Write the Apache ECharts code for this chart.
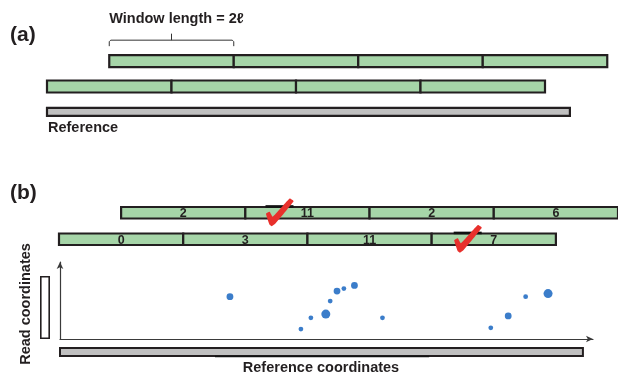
<!DOCTYPE html>
<html><head><meta charset="utf-8">
<script src="https://cdn.jsdelivr.net/npm/echarts@6/dist/echarts.min.js"></script>
<style>html,body{margin:0;padding:0;background:#fff}#c{width:618px;height:375px}</style>
</head><body><div id="c"></div>
<script>
// ---- data (reference units, ℓ = 1) ----
const windowLength = 2;            // 2ℓ
const aRow1Starts = [1, 3, 5, 7];
const aRow2Starts = [0, 2, 4, 6];
const refLength = 8.4;
const bRow1Starts = [1, 3, 5, 7];
const bRow1Counts = [2, 11, 2, 6];
const bRow2Starts = [0, 2, 4, 6];
const bRow2Counts = [0, 3, 11, 7];
const checkX = [3.55, 6.58];
const checkRow = [0, 1];
const hitRef  = [2.73, 3.87, 4.03, 4.27, 4.34, 4.45, 4.56, 4.73, 5.18, 6.92, 7.20, 7.48, 7.84];
const hitRead = [0.68, 0.16, 0.34, 0.40, 0.61, 0.77, 0.81, 0.86, 0.34, 0.18, 0.37, 0.68, 0.73];
const hitWeight = [2, 1, 1, 3, 1, 2, 1, 2, 1, 1, 2, 1, 3];
const readSpan = [0, 1.0];
const refUnderline = [2.49, 5.93];

// ---- styles ----
const FONT = '"Liberation Sans", Arial, "DejaVu Sans", sans-serif';
const INK = '#231f20';
const GREEN = '#a6d5a8';
const GRAY = '#c0c0c0';
const BLUE = '#3b7dca';
const RED = '#e8302c';
const sizeByWeight = {1: 4.8, 2: 6.8, 3: 9};

function winData(starts, row, labels) {
  return starts.map((s, i) => labels ? [s, s + windowLength, row, labels[i]] : [s, s + windowLength, row]);
}
function barRender(h, fill, labelled) {
  return function (params, api) {
    const p0 = api.coord([api.value(0), api.value(2)]);
    const p1 = api.coord([api.value(1), api.value(2)]);
    const children = [{
      type: 'rect',
      shape: {x: p0[0], y: p0[1] - h / 2, width: p1[0] - p0[0], height: h},
      style: {fill: fill, stroke: INK, lineWidth: 2.2}
    }];
    if (labelled) {
      children.push({
        type: 'text', x: (p0[0] + p1[0]) / 2, y: p0[1] + 1,
        style: {text: String(api.value(3)), font: 'bold 12.5px ' + FONT, fill: INK,
                textAlign: 'center', textVerticalAlign: 'middle'}
      });
    }
    return {type: 'group', children: children};
  };
}
const winDims = ['start', 'end', 'row', 'label'];

const chart = echarts.init(document.getElementById('c'), null, {renderer: 'canvas'});
const hidden = {show: false};
chart.setOption({
  animation: false,
  grid: [
    {left: 47, top: 48.5, width: 560.25, height: 76},
    {left: 59, top: 199.5, width: 560.25, height: 53},
    {left: 60, top: 262, width: 533, height: 77}
  ],
  xAxis: [
    {gridIndex: 0, type: 'value', min: 0, max: 9, show: false},
    {gridIndex: 1, type: 'value', min: 0, max: 9, show: false},
    {gridIndex: 2, type: 'value', min: 0, max: 8.562,
     axisLine: {show: true, symbol: ['none', 'arrow'], symbolSize: [5, 7], lineStyle: {color: '#3a3a3a', width: 1.2}},
     axisTick: hidden, axisLabel: hidden, splitLine: hidden}
  ],
  yAxis: [
    {gridIndex: 0, type: 'category', data: ['w1', 'w2', 'ref'], inverse: true, show: false},
    {gridIndex: 1, type: 'category', data: ['r1', 'r2'], inverse: true, show: false},
    {gridIndex: 2, type: 'value', min: 0, max: 1.237,
     axisLine: {show: true, symbol: ['none', 'arrow'], symbolSize: [5, 7], lineStyle: {color: '#3a3a3a', width: 1.2}},
     axisTick: hidden, axisLabel: hidden, splitLine: hidden}
  ],
  graphic: [
    {type: 'text', x: 10, y: 35.5, style: {text: '(a)', font: 'bold 21px ' + FONT, fill: INK, textVerticalAlign: 'middle'}},
    {type: 'text', x: 10, y: 193.5, style: {text: '(b)', font: 'bold 21px ' + FONT, fill: INK, textVerticalAlign: 'middle'}},
    {type: 'text', x: 48, y: 128, style: {text: 'Reference', font: 'bold 14.5px ' + FONT, fill: INK, textVerticalAlign: 'middle'}},
    {type: 'text', x: 321, y: 367.5, style: {text: 'Reference coordinates', font: 'bold 14.5px ' + FONT, fill: INK, textAlign: 'center', textVerticalAlign: 'middle'}},
    {type: 'text', x: 26, y: 304, rotation: Math.PI / 2, style: {text: 'Read coordinates', font: 'bold 14.5px ' + FONT, fill: INK, textAlign: 'center', textVerticalAlign: 'middle'}}
  ],
  series: [
    // panel (a)
    {type: 'custom', xAxisIndex: 0, yAxisIndex: 0, clip: false, dimensions: winDims, encode: {x: [0, 1], y: 2},
     data: winData(aRow1Starts, 0).concat(winData(aRow2Starts, 1)), renderItem: barRender(12, GREEN, false)},
    {type: 'custom', xAxisIndex: 0, yAxisIndex: 0, clip: false, encode: {x: [0, 1], y: 2},
     data: [[0, refLength, 2]], renderItem: barRender(8, GRAY, false)},
    // bracket + window length label
    {type: 'custom', xAxisIndex: 0, yAxisIndex: 0, clip: false, encode: {x: [0, 1], y: 2},
     data: [[aRow1Starts[0], aRow1Starts[0] + windowLength, 0]],
     renderItem: function (params, api) {
       const p0 = api.coord([api.value(0), api.value(2)]);
       const p1 = api.coord([api.value(1), api.value(2)]);
       const cy = p0[1], xm = (p0[0] + p1[0]) / 2;
       return {type: 'group', children: [
         {type: 'polyline', shape: {points: [[p0[0], cy - 15], [p0[0], cy - 19.5], [p0[0] + 1.5, cy - 21], [p1[0] - 1.5, cy - 21], [p1[0], cy - 19.5], [p1[0], cy - 15]]},
          style: {fill: null, stroke: '#333', lineWidth: 1}},
         {type: 'line', shape: {x1: xm, y1: cy - 21, x2: xm, y2: cy - 27.5}, style: {stroke: '#333', lineWidth: 1}},
         {type: 'text', x: xm + 5, y: cy - 42, style: {text: 'Window length = 2ℓ', font: 'bold 14.5px ' + FONT, fill: INK, textAlign: 'center', textVerticalAlign: 'middle'}}
       ]};
     }},
    // panel (b) windows
    {type: 'custom', xAxisIndex: 1, yAxisIndex: 1, clip: false, dimensions: winDims, encode: {x: [0, 1], y: 2},
     data: winData(bRow1Starts, 0, bRow1Counts).concat(winData(bRow2Starts, 1, bRow2Counts)),
     renderItem: barRender(11.5, GREEN, true)},
    // check marks
    {type: 'custom', xAxisIndex: 1, yAxisIndex: 1, clip: false, z: 5, encode: {x: 0, y: 1},
     data: checkX.map((x, i) => [x, checkRow[i]]),
     renderItem: function (params, api) {
       const c = api.coord([api.value(0), api.value(1)]);
       const ox = c[0] - 13.5, oy = c[1] - 13;
       const pts = [[0, 14], [3.6, 12], [6.8, 17], [23.6, -1.2], [27.6, 1.4], [9.2, 24], [5.8, 26.4], [3.6, 25]]
         .map(p => [ox + p[0], oy + p[1]]);
       return {type: 'group', children: [
         {type: 'rect', shape: {x: c[0] - 14, y: c[1] - 7.6, width: 28, height: 2.6}, style: {fill: '#111'}},
         {type: 'polygon', shape: {points: pts, smooth: 0.12}, style: {fill: RED}}
       ]};
     }},
    // scatter hits
    {type: 'scatter', xAxisIndex: 2, yAxisIndex: 2,
     data: hitRef.map((x, i) => [x, hitRead[i], hitWeight[i]]),
     symbolSize: v => sizeByWeight[v[2]],
     itemStyle: {color: BLUE, opacity: 1}},
    // reference bar (b)
    {type: 'custom', xAxisIndex: 2, yAxisIndex: 2, clip: false, encode: {x: [0, 1]},
     data: [[0, refLength]],
     renderItem: function (params, api) {
       const p0 = api.coord([api.value(0), 0]);
       const p1 = api.coord([api.value(1), 0]);
       return {type: 'rect', shape: {x: p0[0], y: p0[1] + 9, width: p1[0] - p0[0], height: 8},
               style: {fill: GRAY, stroke: INK, lineWidth: 2}};
     }},
    {type: 'custom', xAxisIndex: 2, yAxisIndex: 2, clip: false, encode: {x: [0, 1]},
     data: [refUnderline],
     renderItem: function (params, api) {
       const p0 = api.coord([api.value(0), 0]);
       const p1 = api.coord([api.value(1), 0]);
       return {type: 'line', shape: {x1: p0[0], y1: p0[1] + 17.6, x2: p1[0], y2: p0[1] + 17.6},
               style: {stroke: '#111', lineWidth: 1.5}};
     }},
    // read bar
    {type: 'custom', xAxisIndex: 2, yAxisIndex: 2, clip: false, encode: {y: [0, 1]},
     data: [readSpan],
     renderItem: function (params, api) {
       const p0 = api.coord([0, api.value(0)]);
       const p1 = api.coord([0, api.value(1)]);
       return {type: 'rect', shape: {x: p0[0] - 19.2, y: p1[1], width: 8.4, height: p0[1] - p1[1] - 0.8},
               style: {fill: '#fff', stroke: INK, lineWidth: 1.6}};
     }}
  ]
});
</script>
</body></html>
